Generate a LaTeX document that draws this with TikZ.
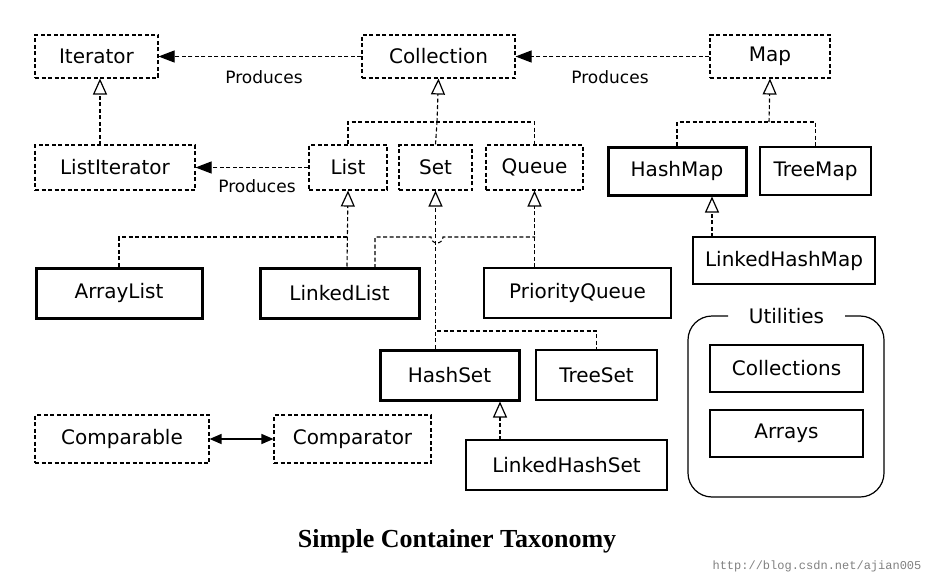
\documentclass[tikz,border=0pt]{standalone}
\usepackage{fontspec}
\setmainfont{DejaVu Sans}
\newfontfamily\titlefont{Liberation Serif}
\newfontfamily\monofont{Liberation Mono}
\usetikzlibrary{arrows.meta}
\begin{document}
\begin{tikzpicture}[x=1pt,y=-1pt,
 bf/.style={font=\fontsize{20}{22}\selectfont},
 iface/.style={draw,dashed,line width=1.1pt,dash pattern=on 4pt off 2.5pt,bf,inner sep=0pt},
 cls/.style={draw,line width=1.2pt,bf,inner sep=0pt},
 main/.style={draw,line width=3pt,bf,inner sep=0pt},
 dl/.style={dashed,dash pattern=on 4pt off 2.5pt,line width=1.1pt},
 inh/.style={dl,-{Triangle[open,length=16pt,width=14pt,line width=1.2pt]}},
 prod/.style={dl,-{Triangle[length=16pt,width=12pt]}},
 lab/.style={font=\fontsize{17}{19}\selectfont}]
\useasboundingbox (0,0) rectangle (940,586);
\newcommand\bx[6]{\node[#1,minimum width=#4-#2,minimum height=#5-#3] (#6) at ({(#2+#4)/2},{(#3+#5)/2}) {#6};}
\bx{iface}{35}{35}{158}{78}{Iterator}
\bx{iface}{362}{35}{515}{78}{Collection}
\bx{iface}{710}{35}{830}{78}{Map}
\bx{iface}{35}{145}{195}{190}{ListIterator}
\bx{iface}{309}{145}{387}{190}{List}
\bx{iface}{399}{145}{472}{190}{Set}
\bx{iface}{486}{145}{583}{190}{Queue}
\bx{main}{608}{147}{746}{195}{HashMap}
\bx{cls}{760}{147}{871}{195}{TreeMap}
\bx{cls}{693}{237}{875}{284}{LinkedHashMap}
\bx{main}{36}{268}{202}{318}{ArrayList}
\bx{main}{260}{268}{419}{318}{LinkedList}
\bx{cls}{484}{268}{671}{318}{PriorityQueue}
\bx{main}{380}{350}{519}{400}{HashSet}
\bx{cls}{536}{350}{657}{400}{TreeSet}
\bx{iface}{35}{415}{209}{463}{Comparable}
\bx{iface}{274}{415}{431}{463}{Comparator}
\bx{cls}{466}{440}{667}{490}{LinkedHashSet}
\bx{cls}{710}{345}{863}{392}{Collections}
\bx{cls}{710}{410}{863}{457}{Arrays}
\draw[line width=1.2pt,rounded corners=24pt] (728,316) -- (688,316) -- (688,497) -- (884,497) -- (884,316) -- (845,316);
\node[bf] (util) at (786.5,316) {Utilities};
% produces
\draw[prod] (Collection) -- (Iterator);
\draw[prod] (Map) -- (Collection);
\draw[prod] (List) -- (ListIterator);
\node[lab] (p1) at (264,77) {Produces};
\node[lab] (p2) at (610,77) {Produces};
\node[lab] (p3) at (257,186) {Produces};
% inheritance
\coordinate (li) at (100,145);
\draw[inh] (li) -- (li |- Iterator.south);
\coordinate (cb) at (437,122);
\draw[dl] (List.north) |- (cb) -| (Queue.north);
\draw[dl] (Set.north) -- (cb);
\draw[inh] (cb) -- (Collection.south);
\coordinate (mb) at (769,122);
\draw[dl] (HashMap.north) |- (mb) -| (TreeMap.north);
\draw[inh] (mb) -- (Map.south);
\coordinate (lhm) at (712,237);
\draw[inh] (lhm) -- (lhm |- HashMap.south);
\coordinate (lb) at (347,237);
\draw[dl] (ArrayList.north) |- (lb);
\draw[inh] (LinkedList.north -| lb) -- (List.south);
\draw[dl] (375,268) -- (375,237) -- (431,237) arc (180:0:6) -- (535,237);
\draw[inh] (PriorityQueue.north -| Queue.south) -- (Queue.south);
\draw[inh] (HashSet.north -| Set.south) -- (Set.south);
\draw[dl] (437,331) -| (TreeSet.north);
\coordinate (lhs) at (500,440);
\draw[inh] (lhs) -- (lhs |- HashSet.south);
\draw[line width=1.3pt,{Triangle[length=12pt,width=10pt]}-{Triangle[length=12pt,width=10pt]}] (Comparable) -- (Comparator);
\node[font=\titlefont\bfseries\fontsize{26}{28}\selectfont] (title) at (457,541) {Simple Container Taxonomy};
\node[font=\monofont\fontsize{12}{14}\selectfont,text=gray] (wm) at (817,566) {http://blog.csdn.net/ajian005};
\end{tikzpicture}
\end{document}
